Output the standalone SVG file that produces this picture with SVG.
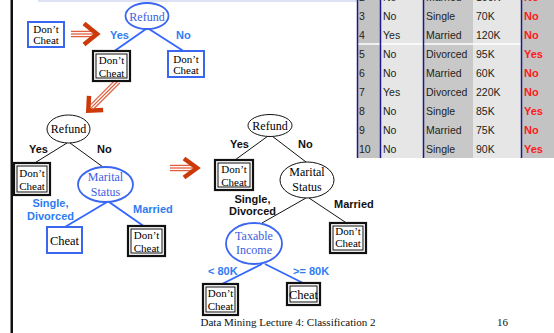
<svg xmlns="http://www.w3.org/2000/svg" width="554" height="333" viewBox="0 0 554 333">
<style>
.sr{font-family:"Liberation Serif","Times New Roman",serif;font-size:11px;fill:#000;text-anchor:middle}
.sr2{font-family:"Liberation Serif","Times New Roman",serif;font-size:12.5px;fill:#000;text-anchor:middle}
.srb{font-family:"Liberation Serif","Times New Roman",serif;font-size:12px;fill:#3a5ee0;text-anchor:middle}
.srk{font-family:"Liberation Serif","Times New Roman",serif;font-size:12px;fill:#000;text-anchor:middle}
.lb{font-family:"Liberation Sans",Arial,sans-serif;font-size:11px;font-weight:bold;fill:#2f7cf2}
.lk{font-family:"Liberation Sans",Arial,sans-serif;font-size:11px;font-weight:bold;fill:#111}
.bbox{fill:#fff;stroke:#3a66f0;stroke-width:2}
.dout{fill:#fff;stroke:#111;stroke-width:2.2}
.din{fill:#fff;stroke:#111;stroke-width:1}
.eb{fill:#fff;stroke:#3a66f0;stroke-width:1.8}
.ek{fill:#fff;stroke:#111;stroke-width:1}
.ebl{stroke:#3366ff;stroke-width:1.8;fill:none}
.ekl{stroke:#111;stroke-width:1;fill:none}
.td{font-family:"Liberation Sans",Arial,sans-serif;font-size:10.5px;fill:#222}
.tr{font-family:"Liberation Sans",Arial,sans-serif;font-size:11px;font-weight:bold;fill:#ff1a1a}
.shaft{stroke:#e0603e;stroke-width:1.3}
.chev{fill:none;stroke:#cc3a0c;stroke-width:4.5;stroke-linejoin:miter;stroke-linecap:butt}
.ft{font-family:"Liberation Serif","Times New Roman",serif;font-size:11px;fill:#111}
</style>

<!-- page decorations -->
<rect x="38" y="0" width="319" height="2" fill="#dde3f5"/>
<rect x="10.5" y="0" width="2.5" height="333" fill="#111"/>

<!-- table -->
<g id="table">
<rect x="357" y="0" width="24" height="158" fill="#c3c3c3"/>
<rect x="381" y="0" width="42" height="158" fill="#e6e6e6"/>
<rect x="423" y="0" width="50" height="158" fill="#c8c8c8"/>
<rect x="473" y="0" width="49" height="158" fill="#e6e6e6"/>
<rect x="522" y="0" width="32" height="158" fill="#c3c3c3"/>
<line x1="358" y1="44" x2="522" y2="44" stroke="#fff" stroke-width="1.5"/>
<g stroke="#1a1a8a" stroke-width="1.5">
<line x1="357.5" y1="0" x2="357.5" y2="158"/>
<line x1="380.5" y1="0" x2="380.5" y2="158"/>
<line x1="423.5" y1="0" x2="423.5" y2="158"/>
<line x1="521.5" y1="0" x2="521.5" y2="158"/>
</g>
<text class="td" x="359" y="1">2</text><text class="td" x="383" y="1">No</text><text class="td" x="426" y="1">Married</text><text class="td" x="476" y="1">100K</text><text class="tr" x="524" y="1">No</text>
<text class="td" x="359" y="19.5">3</text><text class="td" x="383" y="19.5">No</text><text class="td" x="426" y="19.5">Single</text><text class="td" x="476" y="19.5">70K</text><text class="tr" x="524" y="19.5">No</text>
<text class="td" x="359" y="38.5">4</text><text class="td" x="383" y="38.5">Yes</text><text class="td" x="426" y="38.5">Married</text><text class="td" x="476" y="38.5">120K</text><text class="tr" x="524" y="38.5">No</text>
<text class="td" x="359" y="57.5">5</text><text class="td" x="383" y="57.5">No</text><text class="td" x="426" y="57.5">Divorced</text><text class="td" x="476" y="57.5">95K</text><text class="tr" x="524" y="57.5">Yes</text>
<text class="td" x="359" y="76.5">6</text><text class="td" x="383" y="76.5">No</text><text class="td" x="426" y="76.5">Married</text><text class="td" x="476" y="76.5">60K</text><text class="tr" x="524" y="76.5">No</text>
<text class="td" x="359" y="95.5">7</text><text class="td" x="383" y="95.5">Yes</text><text class="td" x="426" y="95.5">Divorced</text><text class="td" x="476" y="95.5">220K</text><text class="tr" x="524" y="95.5">No</text>
<text class="td" x="359" y="114.5">8</text><text class="td" x="383" y="114.5">No</text><text class="td" x="426" y="114.5">Single</text><text class="td" x="476" y="114.5">85K</text><text class="tr" x="524" y="114.5">Yes</text>
<text class="td" x="359" y="133.5">9</text><text class="td" x="383" y="133.5">No</text><text class="td" x="426" y="133.5">Married</text><text class="td" x="476" y="133.5">75K</text><text class="tr" x="524" y="133.5">No</text>
<text class="td" x="359" y="152.5">10</text><text class="td" x="383" y="152.5">No</text><text class="td" x="426" y="152.5">Single</text><text class="td" x="476" y="152.5">90K</text><text class="tr" x="524" y="152.5">Yes</text>
</g>

<!-- connectors -->
<g id="connectors">
<line class="ebl" x1="146" y1="29" x2="113" y2="52"/>
<line class="ebl" x1="149" y1="29" x2="185" y2="52"/>
<line class="ekl" x1="67" y1="143" x2="33" y2="164"/>
<line class="ekl" x1="70" y1="143" x2="103" y2="167"/>
<line class="ebl" x1="107" y1="202" x2="65" y2="227"/>
<line class="ebl" x1="109" y1="202" x2="145" y2="227"/>
<line class="ekl" x1="268" y1="136" x2="235" y2="160"/>
<line class="ekl" x1="272" y1="136" x2="306" y2="162"/>
<line class="ekl" x1="306" y1="198" x2="262" y2="223"/>
<line class="ekl" x1="309" y1="198" x2="348" y2="224"/>
<line class="ebl" x1="262" y1="264" x2="222" y2="284"/>
<line class="ebl" x1="265" y1="264" x2="305" y2="284"/>
<!-- big step arrows -->
<g transform="translate(71,34)">
<line class="shaft" x1="0" y1="-2.6" x2="22" y2="-2.6"/><line class="shaft" x1="0" y1="0" x2="24" y2="0"/><line class="shaft" x1="0" y1="2.6" x2="22" y2="2.6"/>
<polyline class="chev" points="13,-10.5 26,0 13,10.5"/>
</g>
<g transform="translate(118,81) rotate(135)">
<line class="shaft" x1="0" y1="-2.6" x2="36" y2="-2.6"/><line class="shaft" x1="0" y1="0" x2="38" y2="0"/><line class="shaft" x1="0" y1="2.6" x2="36" y2="2.6"/>
<polyline class="chev" points="31,-10 42,0 31,10"/>
</g>
<g transform="translate(170,168)">
<line class="shaft" x1="0" y1="-2.6" x2="22" y2="-2.6"/><line class="shaft" x1="0" y1="0" x2="24" y2="0"/><line class="shaft" x1="0" y1="2.6" x2="22" y2="2.6"/>
<polyline class="chev" points="14,-9.5 27,0 14,9.5"/>
</g>
<!-- edge labels -->
<text class="lb" x="110" y="38.5">Yes</text>
<text class="lb" x="176" y="38.5">No</text>
<text class="lk" x="29" y="153">Yes</text>
<text class="lk" x="97" y="153">No</text>
<text class="lb" x="50.5" y="206.5" text-anchor="middle">Single,</text>
<text class="lb" x="50.5" y="220" text-anchor="middle">Divorced</text>
<text class="lb" x="133" y="213">Married</text>
<text class="lk" x="230" y="148">Yes</text>
<text class="lk" x="298" y="148">No</text>
<text class="lk" x="252.5" y="203" text-anchor="middle">Single,</text>
<text class="lk" x="252.5" y="215" text-anchor="middle">Divorced</text>
<text class="lk" x="334" y="208">Married</text>
<text class="lb" x="208" y="274.5">&lt; 80K</text>
<text class="lb" x="293" y="274.5">&gt;= 80K</text>
</g>

<!-- tree 1 -->
<g id="t0-leaf">
<rect class="bbox" x="28" y="22" width="36" height="25"/>
<text class="sr" x="46" y="32.5">Don’t</text><text class="sr" x="46" y="44">Cheat</text>
</g>
<g id="t1-refund">
<ellipse class="eb" cx="147" cy="16" rx="21.5" ry="13"/>
<text class="srb" x="147" y="20.5">Refund</text>
</g>
<g id="t1-yes">
<rect class="dout" x="93" y="51" width="37" height="30"/><rect class="din" x="96" y="54" width="31" height="24"/>
<text class="sr" x="111.5" y="64">Don’t</text><text class="sr" x="111.5" y="76.5">Cheat</text>
</g>
<g id="t1-no">
<rect class="bbox" x="168" y="51" width="36" height="26"/>
<text class="sr" x="186" y="62.5">Don’t</text><text class="sr" x="186" y="74">Cheat</text>
</g>

<!-- tree 2 -->
<g id="t2-refund">
<ellipse class="ek" cx="68.5" cy="129" rx="21.5" ry="14"/>
<text class="srk" x="68.5" y="133">Refund</text>
</g>
<g id="t2-yes">
<rect class="dout" x="14" y="163" width="36" height="32"/><rect class="din" x="17" y="166" width="30" height="26"/>
<text class="sr" x="32" y="176.5">Don’t</text><text class="sr" x="32" y="190">Cheat</text>
</g>
<g id="t2-marital">
<ellipse class="eb" cx="105.5" cy="184.5" rx="27.5" ry="17.5"/>
<text class="srb" x="105.5" y="181">Marital</text><text class="srb" x="105.5" y="195.5">Status</text>
</g>
<g id="t2-single">
<rect class="bbox" x="47" y="227" width="35" height="26"/>
<text class="sr2" x="64.5" y="245">Cheat</text>
</g>
<g id="t2-married">
<rect class="dout" x="128" y="226" width="37" height="30"/><rect class="din" x="131" y="229" width="31" height="24"/>
<text class="sr" x="146.5" y="238.5">Don’t</text><text class="sr" x="146.5" y="251.5">Cheat</text>
</g>

<!-- tree 3 -->
<g id="t3-refund">
<ellipse class="ek" cx="270" cy="125.5" rx="22" ry="11"/>
<text class="srk" x="270" y="129.5">Refund</text>
</g>
<g id="t3-yes">
<rect class="dout" x="215" y="160" width="38" height="30"/><rect class="din" x="218" y="163" width="32" height="24"/>
<text class="sr" x="234" y="172.5">Don’t</text><text class="sr" x="234" y="185.5">Cheat</text>
</g>
<g id="t3-marital">
<ellipse class="ek" cx="307" cy="180" rx="27" ry="18"/>
<text class="srk" x="307" y="176">Marital</text><text class="srk" x="307" y="191">Status</text>
</g>
<g id="t3-married">
<rect class="dout" x="330" y="223" width="36" height="30"/><rect class="din" x="333" y="226" width="30" height="24"/>
<text class="sr" x="348" y="234.5">Don’t</text><text class="sr" x="348" y="247">Cheat</text>
</g>
<g id="t3-income">
<ellipse class="eb" cx="254" cy="243.5" rx="28" ry="20.5"/>
<text class="srb" x="254" y="240">Taxable</text><text class="srb" x="254" y="254">Income</text>
</g>
<g id="t3-low">
<rect class="dout" x="203" y="284" width="35" height="31"/><rect class="din" x="206" y="287" width="29" height="25"/>
<text class="sr" x="220.5" y="297">Don’t</text><text class="sr" x="220.5" y="310">Cheat</text>
</g>
<g id="t3-high">
<rect class="dout" x="287" y="283" width="33" height="22"/><rect class="din" x="290" y="286" width="27" height="16"/>
<text class="sr2" x="303.5" y="298.5">Cheat</text>
</g>

<!-- footer -->
<text class="ft" x="200.5" y="325.5">Data Mining  Lecture 4: Classification 2</text>
<text class="ft" x="497" y="325.5">16</text>
</svg>
